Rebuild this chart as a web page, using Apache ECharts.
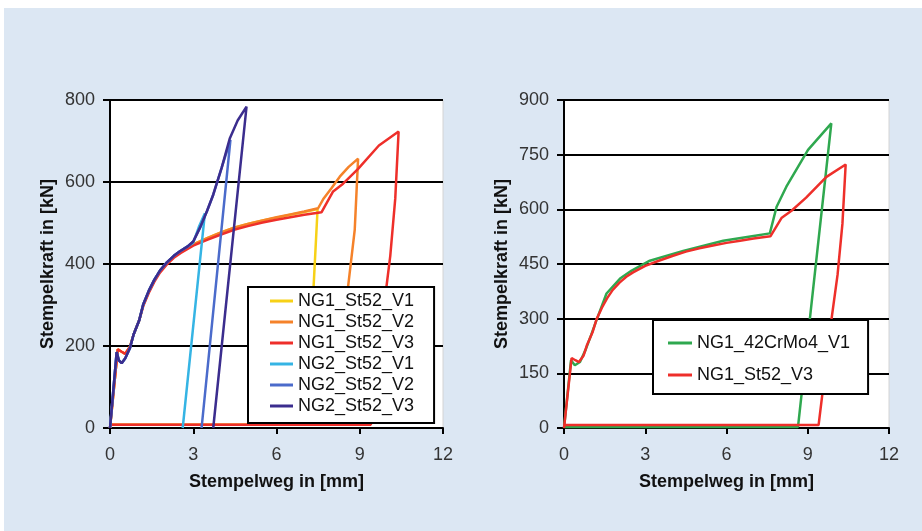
<!DOCTYPE html>
<html>
<head>
<meta charset="utf-8">
<script src="https://cdn.jsdelivr.net/npm/echarts@6/dist/echarts.min.js"></script>
<style>
  body { margin: 0; background: #fff; }
  #bg { position: absolute; left: 4px; top: 8px; width: 918px; height: 523px; background: #dce7f3; }
  #chart { position: absolute; left: 0; top: 0; width: 922px; height: 531px; }
</style>
</head>
<body>
<div id="bg"></div>
<div id="chart"></div>
<script>
// Stempelweg [mm], Stempelkraft [kN]
var xTicks = [0, 3, 6, 9, 12];
var yTicksLeft = [0, 200, 400, 600, 800];
var yTicksRight = [0, 150, 300, 450, 600, 750, 900];

var ng1V1 = [[0,0],[0.28,192],[0.42,186],[0.55,181],[0.72,198],[0.85,228],[1.05,262],[1.2,300],[1.4,333],[1.6,360],[1.8,382],[2.05,402],[2.3,418],[2.55,430],[3.0,448],[3.5,463],[4.0,477],[4.5,489],[5.0,498],[5.5,506],[6.0,513],[6.5,520],[7.0,527],[7.48,534],[7.34,349],[7.04,8],[0,8]];
var ng1V2 = [[0,0],[0.28,192],[0.42,186],[0.55,181],[0.72,198],[0.85,228],[1.05,262],[1.2,300],[1.4,333],[1.6,360],[1.8,382],[2.05,402],[2.3,418],[2.55,430],[3.0,448],[3.5,463],[4.0,477],[4.5,489],[5.0,498],[5.5,506],[6.0,514],[6.5,521],[7.0,528],[7.5,536],[7.7,560],[7.98,585],[8.28,613],[8.6,637],[8.94,657],[8.82,484],[8.58,345],[8.15,8],[0,8]];
var ng1V3 = [[0,0],[0.28,192],[0.42,186],[0.55,181],[0.72,198],[0.85,228],[1.05,262],[1.2,298],[1.4,330],[1.6,357],[1.8,379],[2.05,399],[2.3,415],[2.55,427],[3.0,445],[3.5,459],[4.0,472],[4.5,484],[5.0,493],[5.5,501],[6.0,508],[6.5,514],[7.0,520],[7.62,526],[7.8,548],[8.04,577],[8.4,596],[8.94,632],[9.69,689],[10.4,723],[10.28,560],[10.1,420],[9.88,300],[9.4,8],[0,8]];
var ng2V1 = [[0,0],[0.24,185],[0.32,165],[0.42,158],[0.55,170],[0.72,195],[0.85,228],[1.05,262],[1.2,302],[1.4,335],[1.6,362],[1.8,384],[2.05,404],[2.3,420],[2.52,431],[2.8,443],[3.0,452],[3.2,490],[3.42,524],[2.62,0]];
var ng2V2 = [[0,0],[0.24,185],[0.32,165],[0.42,158],[0.55,170],[0.72,195],[0.85,228],[1.05,262],[1.2,302],[1.4,335],[1.6,362],[1.8,384],[2.05,404],[2.3,420],[2.52,431],[2.8,443],[3.0,455],[3.24,488],[3.5,530],[3.72,569],[4.02,634],[4.34,703],[3.3,0]];
var ng2V3 = [[0,0],[0.24,185],[0.32,165],[0.42,158],[0.55,170],[0.72,195],[0.85,228],[1.05,262],[1.2,302],[1.4,335],[1.6,362],[1.8,384],[2.05,404],[2.3,420],[2.52,431],[2.8,443],[3.0,455],[3.24,488],[3.5,530],[3.72,569],[4.02,634],[4.32,707],[4.6,750],[4.92,784],[3.72,0]];
var ng1Cr = [[0,0],[0.26,186],[0.4,172],[0.59,181],[0.8,215],[1.0,255],[1.2,296],[1.57,369],[2.07,410],[2.5,432],[3.17,459],[4.4,486],[5.88,514],[7.0,527],[7.6,534],[7.85,607],[8.21,662],[9.01,763],[9.87,836],[8.64,3],[0,3]];

var colors = {
  'NG1_St52_V1': '#f7d117',
  'NG1_St52_V2': '#f5822a',
  'NG1_St52_V3': '#ee2f2a',
  'NG2_St52_V1': '#35b4e4',
  'NG2_St52_V2': '#4b6bcb',
  'NG2_St52_V3': '#3b2d8e',
  'NG1_42CrMo4_V1': '#2fa84f'
};

var font = "'Liberation Sans', Arial, sans-serif";

function make_line(name, data, idx) {
  return {
    name: name,
    type: 'line',
    xAxisIndex: idx,
    yAxisIndex: idx,
    data: data,
    symbol: 'none',
    animation: false,
    lineStyle: { width: 2.5, color: colors[name] },
    itemStyle: { color: colors[name] }
  };
}

function x_axis(idx) {
  return {
    type: 'value', gridIndex: idx, min: xTicks[0], max: xTicks[xTicks.length - 1], interval: 3,
    name: 'Stempelweg in [mm]', nameLocation: 'middle', nameGap: 45,
    nameTextStyle: { fontFamily: font, fontSize: 18, fontWeight: 'bold', color: '#111' },
    axisLine: { lineStyle: { color: '#000', width: 2 } },
    axisTick: { show: true, length: 6, lineStyle: { color: '#000', width: 2 } },
    axisLabel: { margin: 18, fontFamily: font, fontSize: 18, color: '#333' },
    splitLine: { show: false }
  };
}

function y_axis(idx, ticks) {
  return {
    type: 'value', gridIndex: idx, min: ticks[0], max: ticks[ticks.length - 1], interval: ticks[1] - ticks[0],
    name: 'Stempelkraft in [kN]', nameLocation: 'middle', nameGap: 53,
    nameTextStyle: { fontFamily: font, fontSize: 18, fontWeight: 'bold', color: '#111' },
    axisLine: { show: true, lineStyle: { color: '#000', width: 2 } },
    axisTick: { show: true, length: 7, lineStyle: { color: '#000', width: 2 } },
    axisLabel: { margin: 15, fontFamily: font, fontSize: 18, color: '#333' },
    splitLine: { show: true, lineStyle: { color: '#000', width: 2 } }
  };
}

var legendText = { fontFamily: font, fontSize: 18, color: '#111', lineHeight: 18 };

var option = {
  animation: false,
  grid: [
    { left: 110, top: 100, width: 333, height: 328, show: true, backgroundColor: '#fff', borderColor: '#d4d4d4', borderWidth: 1 },
    { left: 564, top: 100, width: 325, height: 328, show: true, backgroundColor: '#fff', borderColor: '#d4d4d4', borderWidth: 1 }
  ],
  xAxis: [x_axis(0), x_axis(1)],
  yAxis: [y_axis(0, yTicksLeft), y_axis(1, yTicksRight)],
  legend: [
    {
      orient: 'vertical', left: 248, top: 287,
      data: ['NG1_St52_V1', 'NG1_St52_V2', 'NG1_St52_V3', 'NG2_St52_V1', 'NG2_St52_V2', 'NG2_St52_V3'],
      icon: 'rect', itemWidth: 23, itemHeight: 3, itemGap: 3,
      padding: [5, 20, 8, 22],
      backgroundColor: '#fff', borderColor: '#000', borderWidth: 2, borderRadius: 0,
      textStyle: legendText, selectedMode: false
    },
    {
      orient: 'vertical', left: 653, top: 320,
      data: ['NG1_42CrMo4_V1', 'NG1_St52_V3'],
      icon: 'rect', itemWidth: 24, itemHeight: 3, itemGap: 14,
      padding: [14, 18, 10, 15],
      backgroundColor: '#fff', borderColor: '#000', borderWidth: 2, borderRadius: 0,
      textStyle: legendText, selectedMode: false
    }
  ],
  series: [
    make_line('NG1_St52_V1', ng1V1, 0),
    make_line('NG1_St52_V2', ng1V2, 0),
    make_line('NG1_St52_V3', ng1V3, 0),
    make_line('NG2_St52_V1', ng2V1, 0),
    make_line('NG2_St52_V2', ng2V2, 0),
    make_line('NG2_St52_V3', ng2V3, 0),
    make_line('NG1_42CrMo4_V1', ng1Cr, 1),
    make_line('NG1_St52_V3', ng1V3, 1)
  ]
};

var chart = echarts.init(document.getElementById('chart'));
chart.setOption(option);
</script>
</body>
</html>
